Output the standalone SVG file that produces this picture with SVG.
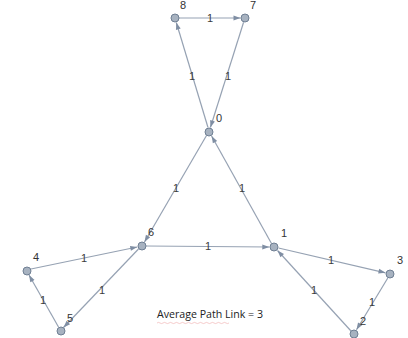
<svg xmlns="http://www.w3.org/2000/svg" width="408" height="338" viewBox="0 0 408 338">
  <style>
    .edge { stroke: #96a2b3; stroke-width: 1.2; fill: none; marker-end: url(#arrow); }
    .node circle { fill: #a7b2c0; stroke: #6f7f93; stroke-width: 1; }
    .lbl { font-family: "Liberation Sans", Arial, sans-serif; font-size: 11px; fill: #333; text-anchor: middle; }
    .w { font-family: "Liberation Sans", Arial, sans-serif; font-size: 11px; fill: #3c3c3c; text-anchor: middle; dominant-baseline: central; }
    .note { font-family: "Open Sans", "Liberation Sans", sans-serif; font-size: 10.5px; fill: #222; }
  </style>
  <defs>
    <marker id="arrow" viewBox="0 0 10 10" refX="10" refY="5" markerWidth="8" markerHeight="7" markerUnits="userSpaceOnUse" orient="auto">
      <path d="M0,1.5 L10,5 L0,8.5 z" fill="#7f8ea3"/>
    </marker>
  </defs>
  <rect width="408" height="338" fill="#fff"/>

  <g id="connectors">
    <!-- 8 -> 7 -->
    <line class="edge" x1="179" y1="18" x2="240.5" y2="18"/>
    <!-- 0 -> 8 -->
    <line class="edge" x1="208" y1="127.5" x2="176.3" y2="22.5"/>
    <!-- 7 -> 0 -->
    <line class="edge" x1="243.6" y1="22.3" x2="210.4" y2="127.5"/>
    <!-- 1 -> 0 -->
    <line class="edge" x1="271.5" y1="243.5" x2="211.6" y2="136"/>
    <!-- 0 -> 6 -->
    <line class="edge" x1="206.5" y1="135.5" x2="144.5" y2="242"/>
    <!-- 4 -> 6 -->
    <line class="edge" x1="31" y1="269" x2="137.3" y2="247"/>
    <!-- 6 -> 5 -->
    <line class="edge" x1="138.5" y1="249" x2="63.5" y2="327.5"/>
    <!-- 5 -> 4 -->
    <line class="edge" x1="58.5" y1="327" x2="29" y2="275"/>
    <!-- 6 -> 1 -->
    <line class="edge" x1="146" y1="246" x2="269.3" y2="247"/>
    <!-- 1 -> 3 -->
    <line class="edge" x1="278.5" y1="248" x2="385.5" y2="272.8"/>
    <!-- 3 -> 2 -->
    <line class="edge" x1="387.8" y1="278" x2="356.5" y2="329.8"/>
    <!-- 2 -> 1 -->
    <line class="edge" x1="351" y1="331" x2="277.5" y2="250.5"/>

    <!-- edge weights -->
    <text class="w" x="210" y="18">1</text>
    <text class="w" x="192" y="76">1</text>
    <text class="w" x="228" y="76">1</text>
    <text class="w" x="176" y="188">1</text>
    <text class="w" x="242" y="188">1</text>
    <text class="w" x="84" y="258">1</text>
    <text class="w" x="102" y="290">1</text>
    <text class="w" x="43" y="300">1</text>
    <text class="w" x="208" y="246">1</text>
    <text class="w" x="331" y="260">1</text>
    <text class="w" x="372" y="302">1</text>
    <text class="w" x="314" y="290">1</text>
  </g>

  <g id="node-0" class="node"><circle cx="209" cy="132" r="4"/><text class="lbl" x="219" y="122">0</text></g>
  <g id="node-1" class="node"><circle cx="274" cy="247" r="4"/><text class="lbl" x="284" y="237">1</text></g>
  <g id="node-2" class="node"><circle cx="354" cy="334" r="4"/><text class="lbl" x="363" y="325">2</text></g>
  <g id="node-3" class="node"><circle cx="390" cy="274" r="4"/><text class="lbl" x="400" y="264">3</text></g>
  <g id="node-4" class="node"><circle cx="27" cy="271" r="4"/><text class="lbl" x="36" y="261">4</text></g>
  <g id="node-5" class="node"><circle cx="61" cy="331" r="4"/><text class="lbl" x="70" y="322">5</text></g>
  <g id="node-6" class="node"><circle cx="142" cy="246" r="4"/><text class="lbl" x="151" y="236">6</text></g>
  <g id="node-7" class="node"><circle cx="245" cy="18" r="4"/><text class="lbl" x="253" y="9">7</text></g>
  <g id="node-8" class="node"><circle cx="175" cy="18" r="4"/><text class="lbl" x="183" y="9">8</text></g>

  <g id="caption">
    <text class="note" x="157" y="318" textLength="106" lengthAdjust="spacingAndGlyphs">Average Path Link = 3</text>
    <path d="M157,323 q1.5,-1.2 3,0 t3,0 t3,0 t3,0 t3,0 t3,0 t3,0 t3,0 t3,0 t3,0 t3,0 t3,0 t3,0 t3,0 t3,0 t3,0 t3,0 t3,0 t3,0 t3,0 t3,0 t3,0 t3,0 t3,0" fill="none" stroke="#eaa" stroke-width="0.6"/>
  </g>
</svg>
